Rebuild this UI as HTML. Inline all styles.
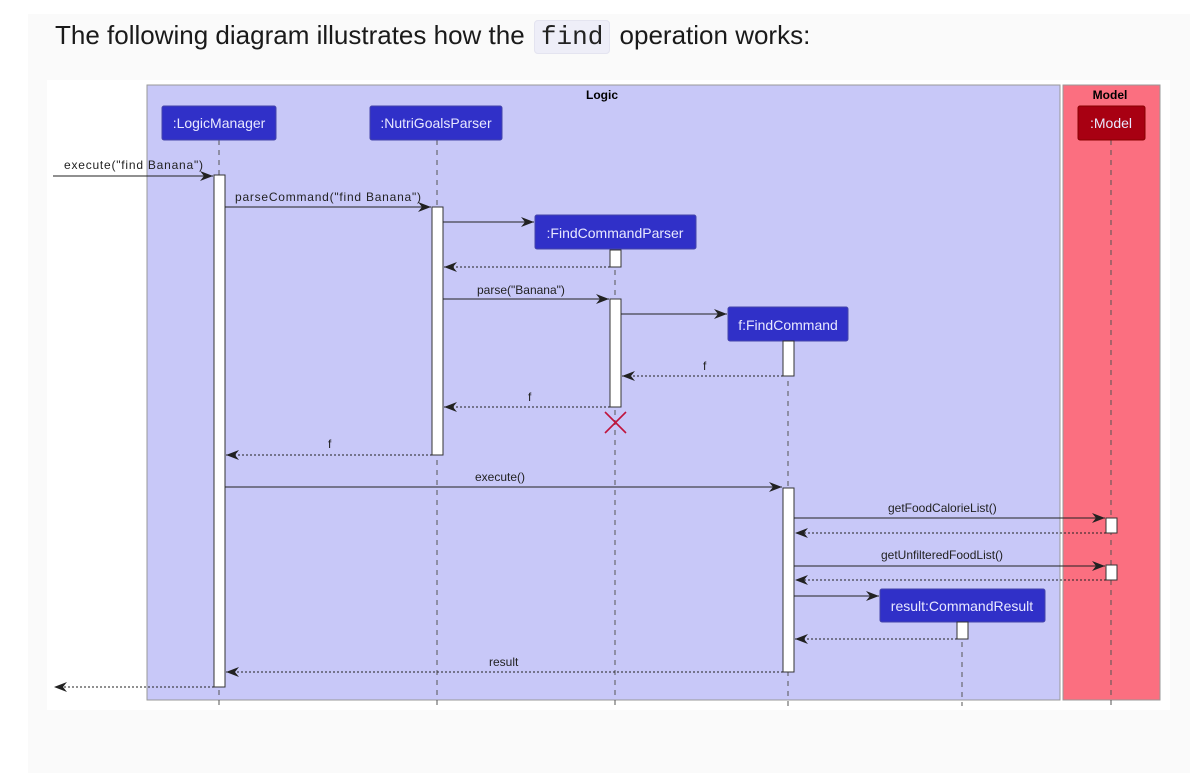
<!DOCTYPE html>
<html><head><meta charset="utf-8"><style>
html,body{margin:0;padding:0;background:#fff;width:1199px;height:773px;overflow:hidden}
.bg{position:absolute;left:28px;top:14px;width:1162px;height:759px;background:#fafafa}
.t{position:absolute;left:55px;top:20px;font:26px "Liberation Sans",sans-serif;color:#1a1a1a}
.c{font-family:"Liberation Mono",monospace;background:#eeeef8;border:1px solid #e4e4f0;border-radius:4px;padding:1px 6px;color:#222;margin:0 2px}
svg{position:absolute;left:0;top:0}
</style></head><body>
<div class="bg"></div>
<div class="t">The following diagram illustrates how the <span class="c">find</span> operation works:</div>
<svg width="1199" height="773" font-family="Liberation Sans, sans-serif" font-size="12">
<defs>
<marker id="a" markerWidth="14" markerHeight="10" refX="13" refY="5" orient="auto" markerUnits="userSpaceOnUse"><path d="M0,0 L13,5 L0,10 L4,5 Z" fill="#222"/></marker>
</defs>
<rect x="47" y="80" width="1123" height="630" fill="#fff"/>
<rect x="147" y="85" width="913" height="615" fill="#c8c8f8" stroke="#999" stroke-width="1"/>
<rect x="1063" y="85" width="97" height="615" fill="#fb6f80" stroke="#999" stroke-width="1"/>
<text x="602" y="99" font-weight="bold" text-anchor="middle">Logic</text>
<text x="1110" y="99" font-weight="bold" text-anchor="middle">Model</text>
<g stroke="#555" stroke-dasharray="5,5" stroke-width="1">
<line x1="219" y1="140" x2="219" y2="706"/><line x1="437" y1="140" x2="437" y2="706"/>
<line x1="615" y1="250" x2="615" y2="706"/><line x1="788" y1="341" x2="788" y2="706"/>
<line x1="962" y1="622" x2="962" y2="706"/><line x1="1111" y1="140" x2="1111" y2="706"/>
</g>
<g fill="#3030c8" stroke="#4444aa">
<rect x="162" y="106" width="114" height="34" rx="2"/><rect x="370" y="106" width="132" height="34" rx="2"/>
<rect x="535" y="215" width="161" height="34" rx="2"/><rect x="728" y="307" width="120" height="34" rx="2"/>
<rect x="880" y="589" width="165" height="33" rx="2"/>
<rect x="1078" y="106" width="67" height="34" rx="2" fill="#a80012" stroke="#800"/>
</g>
<g fill="#e8e8ff" font-size="14" text-anchor="middle">
<text x="219" y="128">:LogicManager</text><text x="436" y="128">:NutriGoalsParser</text>
<text x="615" y="238">:FindCommandParser</text><text x="788" y="330">f:FindCommand</text>
<text x="962" y="611">result:CommandResult</text><text x="1111" y="128">:Model</text>
</g>
<g fill="#fff" stroke="#333">
<rect x="214" y="175" width="11" height="512"/><rect x="432" y="207" width="11" height="248"/>
<rect x="610" y="250" width="11" height="17"/><rect x="610" y="299" width="11" height="108"/>
<rect x="783" y="341" width="11" height="35"/><rect x="783" y="488" width="11" height="184"/>
<rect x="1106" y="518" width="11" height="15"/><rect x="1106" y="565" width="11" height="15"/>
<rect x="957" y="622" width="11" height="17"/>
</g>
<g stroke="#222" stroke-width="1" marker-end="url(#a)">
<line x1="53" y1="176" x2="213" y2="176"/>
<line x1="225" y1="207" x2="431" y2="207"/>
<line x1="443" y1="222" x2="534" y2="222"/>
<line x1="443" y1="299" x2="609" y2="299"/>
<line x1="621" y1="314" x2="727" y2="314"/>
<line x1="225" y1="487" x2="782" y2="487"/>
<line x1="794" y1="518" x2="1105" y2="518"/>
<line x1="794" y1="566" x2="1105" y2="566"/>
<line x1="794" y1="596" x2="879" y2="596"/>
</g>
<g stroke="#222" stroke-width="1" stroke-dasharray="2,2" marker-end="url(#a)">
<line x1="610" y1="267" x2="444" y2="267"/>
<line x1="783" y1="376" x2="622" y2="376"/>
<line x1="610" y1="407" x2="444" y2="407"/>
<line x1="432" y1="455" x2="226" y2="455"/>
<line x1="1106" y1="533" x2="795" y2="533"/>
<line x1="1106" y1="580" x2="795" y2="580"/>
<line x1="957" y1="639" x2="795" y2="639"/>
<line x1="783" y1="672" x2="226" y2="672"/>
<line x1="214" y1="687" x2="54" y2="687"/>
</g>
<g stroke="#c0143c" stroke-width="1.6"><line x1="605" y1="412" x2="626" y2="433"/><line x1="626" y1="412" x2="605" y2="433"/></g>
<g fill="#222" font-size="12">
<text x="64" y="169" textLength="139">execute("find Banana")</text>
<text x="235" y="201" textLength="186">parseCommand("find Banana")</text>
<text x="477" y="294">parse("Banana")</text>
<text x="703" y="370">f</text><text x="528" y="401">f</text><text x="328" y="448">f</text>
<text x="475" y="481">execute()</text>
<text x="888" y="512">getFoodCalorieList()</text>
<text x="881" y="559">getUnfilteredFoodList()</text>
<text x="489" y="666">result</text>
</g>
</svg>
</body></html>
